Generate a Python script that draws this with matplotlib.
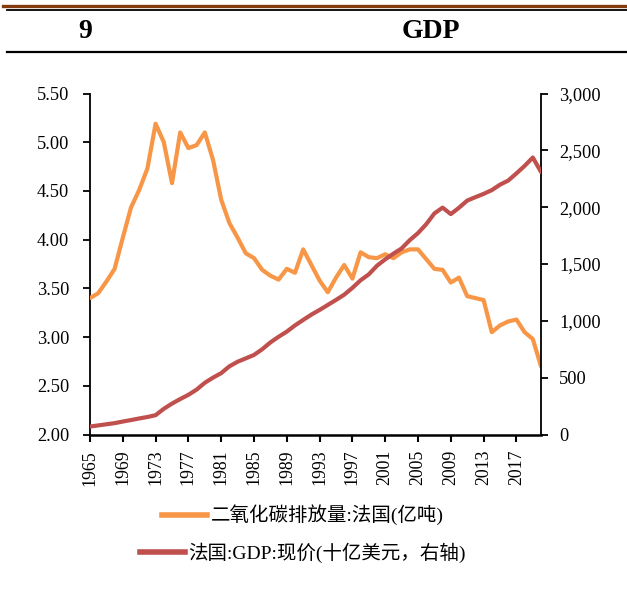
import matplotlib
matplotlib.use("Agg")
import matplotlib.pyplot as plt
from matplotlib.lines import Line2D
from matplotlib.ticker import FuncFormatter, MultipleLocator

plt.rcParams['font.family'] = ['Liberation Serif', 'Noto Sans CJK SC', 'DejaVu Sans']

# ---------------- data ----------------
years = list(range(1965, 2021))

co2 = [3.40, 3.45, 3.57, 3.70, 4.02, 4.33, 4.51, 4.73, 5.19, 5.00,
       4.58, 5.10, 4.94, 4.97, 5.10, 4.82, 4.41, 4.17, 4.02, 3.86,
       3.81, 3.69, 3.63, 3.59, 3.70, 3.66, 3.90, 3.74, 3.58, 3.46,
       3.61, 3.74, 3.60, 3.87, 3.82, 3.81, 3.85, 3.81, 3.87, 3.90,
       3.90, 3.80, 3.70, 3.69, 3.56, 3.61, 3.42, 3.40, 3.38, 3.05,
       3.12, 3.16, 3.18, 3.05, 2.98, 2.70]

gdp = [70, 80, 90, 100, 114, 127, 141, 154, 170, 226,
       272, 312, 349, 395, 455, 500, 540, 600, 640, 670,
       700, 750, 810, 860, 905, 960, 1008, 1055, 1096, 1140,
       1184, 1230, 1290, 1357, 1409, 1485, 1541, 1591, 1637, 1710,
       1772, 1850, 1945, 1996, 1939, 1995, 2058, 2088, 2117, 2150,
       2198, 2234, 2297, 2363, 2437, 2310]

xtick_years = list(range(1965, 2018, 4))
title_left = "9"
title_right = "GDP"
label_co2 = "二氧化碳排放量:法国(亿吨)"
label_gdp = "法国:GDP:现价(十亿美元，右轴)"

c_co2 = "#F79646"
c_gdp = "#C0504D"

W, H = 627, 591
fig = plt.figure(figsize=(W / 100, H / 100), dpi=100)

def fx(px):
    return px / W

def fy(py):
    return 1 - py / H

# header rules and title
fig.add_artist(Line2D([fx(3), 1], [fy(5.5), fy(5.5)], color="#843C0C", lw=2.4))
fig.add_artist(Line2D([fx(7), 1], [fy(10), fy(10)], color="black", lw=1.3))
fig.add_artist(Line2D([fx(7), 1], [fy(52), fy(52)], color="black", lw=1.6))
fig.text(fx(85), fy(31), title_left, fontsize=20, fontweight='bold',
         ha='center', va='center')
fig.text(fx(431), fy(31), title_right, fontsize=20, fontweight='bold',
         ha='center', va='center')

# axes
left, right, top, bottom = 90, 541, 93.5, 434.5
ax = fig.add_axes([fx(left), fy(bottom), fx(right - left), (bottom - top) / H])
ax2 = ax.twinx()

ax.plot(years, co2, color=c_co2, lw=3.0, solid_joinstyle='round',
        solid_capstyle='round', zorder=3)
ax2.plot(years, gdp, color=c_gdp, lw=3.0, solid_joinstyle='round',
         solid_capstyle='round', zorder=3)

ax.set_xlim(1965, 2020)
ax.set_ylim(2.0, 5.5)
ax2.set_ylim(0, 3000)

ax.yaxis.set_major_locator(MultipleLocator(0.5))
ax.yaxis.set_major_formatter(FuncFormatter(lambda v, p: f"{v:.2f}"))
ax2.yaxis.set_major_locator(MultipleLocator(500))
ax2.yaxis.set_major_formatter(FuncFormatter(lambda v, p: f"{v:,.0f}"))
ax.set_xticks(xtick_years)
ax.set_xticklabels([str(y) for y in xtick_years], rotation=90)

for a in (ax, ax2):
    a.spines['top'].set_visible(False)
    a.patch.set_visible(False)
ax.spines['right'].set_visible(False)
ax2.spines['left'].set_visible(False)
ax2.spines['bottom'].set_visible(False)
ax.spines['left'].set_linewidth(1.3)
ax2.spines['right'].set_linewidth(1.3)
ax.spines['bottom'].set_linewidth(1.8)

ax.tick_params(axis='y', direction='out', length=5, width=1.3, pad=10,
               labelsize=13.2, colors='black')
ax2.tick_params(axis='y', direction='out', length=5, width=1.3, pad=8,
                labelsize=13.2, colors='black')
ax.tick_params(axis='x', direction='out', length=5, width=1.5, pad=6,
               labelsize=12.8, colors='black')

# legend (two centred rows)
h1 = Line2D([], [], color=c_co2, lw=4)
h2 = Line2D([], [], color=c_gdp, lw=4)
for h, lab, ypx in ((h1, label_co2, 515), (h2, label_gdp, 553)):
    fig.legend([h], [lab], loc='center', bbox_to_anchor=(fx(303), fy(ypx)),
               frameon=False, fontsize=14, handlelength=2.3,
               handletextpad=0.2, borderpad=0, borderaxespad=0)

fig.savefig("out.png", dpi=100)
